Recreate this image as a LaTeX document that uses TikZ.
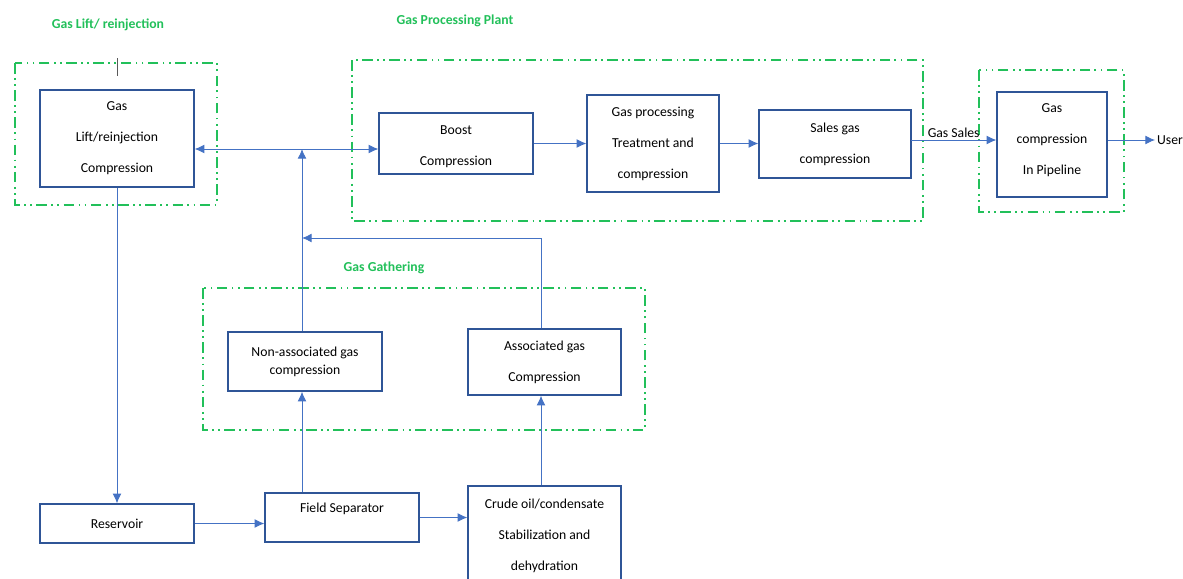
\documentclass[tikz,border=0pt]{standalone}
\usepackage{fontspec}
\setmainfont{Carlito}
\usetikzlibrary{arrows.meta, calc, positioning}
\definecolor{boxblue}{RGB}{47,85,151}
\definecolor{flowblue}{RGB}{68,114,196}
\definecolor{framegreen}{RGB}{34,192,90}

\begin{document}
\begin{tikzpicture}[x=0.02cm, y=-0.02cm,
  unit/.style={draw=boxblue, line width=0.75pt, align=center, inner sep=0pt,
    font=\fontsize{7.8}{17.6}\selectfont},
  flow/.style={draw=flowblue, line width=0.5pt, -{Latex[length=5.5pt,width=5pt]}},
  frame/.style={draw=framegreen, line width=1.3pt,
    dash pattern=on 6pt off 2.5pt on 1pt off 2.5pt on 1pt off 2.5pt},
  area/.style={text=framegreen, font=\fontsize{7.8}{9}\selectfont\bfseries},
  plain/.style={font=\fontsize{7.8}{9}\selectfont, inner sep=1pt}]
\useasboundingbox (0,0) rectangle (1183,578);
\clip (0,0) rectangle (1183,578);
% Gas lift / reinjection
\node[area] (liftlbl) at (108,25) {Gas Lift/ reinjection};
\draw[frame] (15,63) rectangle (217,205);
\draw[gray!70!black, line width=0.5pt] (117,58) -- (117,76);
\node[unit, minimum width=3.08cm, minimum height=1.94cm] (lift) at (117,138.5)
  {Gas\\Lift/reinjection\\Compression};
% Gas processing plant
\node[area] (plantlbl) at (455,21) {Gas Processing Plant};
\draw[frame] (352,60) rectangle (923,221);
\node[unit, minimum width=3.08cm, minimum height=1.22cm, text height=26.5pt] (boost)
  at (456,143.5) {Boost\\Compression};
\node[unit, minimum width=2.64cm, minimum height=1.94cm] (proc) at (653,143.5)
  {Gas processing\\Treatment and\\compression};
\node[unit, minimum width=3.04cm, minimum height=1.36cm] (sales) at (835,144)
  {Sales gas\\compression};
% Pipeline
\draw[frame] (979,70) rectangle (1124,212);
\node[unit, minimum width=2.2cm, minimum height=2.1cm, text depth=6.5pt] (pipe)
  at (1052,144.5) {Gas\\compression\\In Pipeline};
\node[plain] (user) at (1170,140) {User};
% Gas gathering
\node[area] (gatherlbl) at (384,268) {Gas Gathering};
\draw[frame] (203,288) rectangle (645,430);
\node[unit, minimum width=3.08cm, minimum height=1.18cm,
  font=\fontsize{7.8}{10.2}\selectfont] (nonassoc) at (305,361.5)
  {Non-associated gas\\compression};
\node[unit, minimum width=3.06cm, minimum height=1.32cm] (assoc) at (544.5,362)
  {Associated gas\\Compression};
% Wells and separation
\node[unit, minimum width=3.08cm, minimum height=0.78cm] (reservoir) at (117,523.5)
  {Reservoir};
\node[unit, minimum width=3.08cm, minimum height=0.98cm, text depth=11pt] (fieldsep)
  at (342,517.5) {Field Separator};
\node[unit, minimum width=3.06cm, minimum height=2cm] (crude) at (544.5,536)
  {Crude oil/condensate\\Stabilization and\\dehydration};
% Connectors
\coordinate (jn) at (302,149);
\coordinate (ret) at (302,238);
\coordinate (salesout) at (911,140);
\draw[flow, {Latex[length=5.5pt,width=5pt]}-{Latex[length=5.5pt,width=5pt]}]
  (lift.east |- jn) -- (boost.west |- jn);
\draw[flow] (jn |- nonassoc.north) -- (jn);
\draw[flow] ([xshift=-0.07cm]assoc.north) |- (ret);
\draw[flow] (boost.east) -- (proc.west |- boost.east);
\draw[flow] (proc.east) -- (sales.west |- proc.east);
\draw[flow] (salesout) -- (pipe.west |- salesout)
  node[midway, above, plain, text=black] {Gas Sales};
\draw[flow] (pipe.east |- salesout) -- (user.west);
\draw[flow] (lift.south) -- (reservoir.north);
\draw[flow] (reservoir.east) -- (fieldsep.west |- reservoir.east);
\draw[flow] (fieldsep.east) -- (crude.west |- fieldsep.east);
\draw[flow] (jn |- fieldsep.north) -- (jn |- nonassoc.south);
\draw[flow] ([xshift=-0.07cm]crude.north) -- ([xshift=-0.07cm]assoc.south);
\end{tikzpicture}
\end{document}
